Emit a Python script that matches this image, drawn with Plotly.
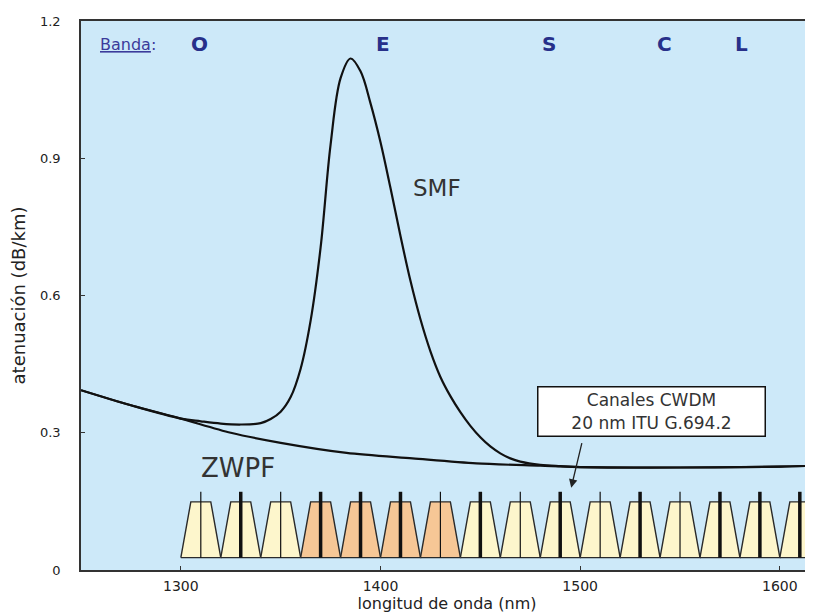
import plotly.graph_objects as go

# ---------------- data ----------------
smf_wavelength = [1250, 1275, 1300, 1310, 1320, 1330, 1340, 1345, 1350, 1355, 1360, 1365,
                  1370, 1375, 1380, 1385, 1390, 1395, 1400, 1405, 1410, 1415, 1420, 1425,
                  1430, 1435, 1440, 1445, 1450, 1455, 1460, 1465, 1470, 1480, 1490, 1500,
                  1550, 1600, 1618]
smf_attenuation = [0.393, 0.360, 0.331, 0.325, 0.320, 0.318, 0.321, 0.330, 0.346, 0.378, 0.440, 0.545,
                   0.705, 0.930, 1.075, 1.118, 1.090, 1.020, 0.935, 0.835, 0.730, 0.632, 0.548, 0.478,
                   0.422, 0.380, 0.345, 0.315, 0.290, 0.270, 0.255, 0.244, 0.237, 0.230, 0.227, 0.225,
                   0.224, 0.226, 0.228]

zwpf_wavelength = [1250, 1275, 1300, 1325, 1350, 1383, 1416, 1448, 1480, 1500, 1550, 1600, 1618]
zwpf_attenuation = [0.393, 0.360, 0.331, 0.300, 0.278, 0.256, 0.244, 0.233, 0.228, 0.225, 0.224, 0.226, 0.228]

channel_centers = [1310, 1330, 1350, 1370, 1390, 1410, 1430, 1450,
                   1470, 1490, 1510, 1530, 1550, 1570, 1590, 1610]
channel_highlight = [False, False, False, True, True, True, True, False,
                     False, False, False, False, False, False, False, False]
channel_thick = [False, True, False, True, True, True, False, True,
                 False, True, False, True, False, True, True, True]
channel_base = 0.027
channel_top = 0.149
channel_marker_top = 0.171
channel_half_top = 5
channel_half_base = 10

band_names = ["O", "E", "S", "C", "L"]
band_positions = [1309.5, 1401, 1484.5, 1542, 1581]

x_ticks = [1300, 1400, 1500, 1600]
x_tick_labels = ["1300", "1400", "1500", "1600"]
y_ticks = [0, 0.3, 0.6, 0.9, 1.2]
y_tick_labels = ["0", "0.3", "0.6", "0.9", "1.2"]

# ---------------- figure ----------------
fig = go.Figure()

cream = "#fdf6cc"
peach = "#f6c796"

for c, hl in zip(channel_centers, channel_highlight):
    xs = [c - channel_half_base, c - channel_half_top, c + channel_half_top,
          c + channel_half_base, c - channel_half_base]
    ys = [channel_base, channel_top, channel_top, channel_base, channel_base]
    fig.add_trace(go.Scatter(
        x=xs, y=ys, mode="lines", fill="toself",
        fillcolor=peach if hl else cream,
        line=dict(color="#2a2a2a", width=1.4),
        hoverinfo="skip", showlegend=False))

for c, thick in zip(channel_centers, channel_thick):
    fig.add_trace(go.Scatter(
        x=[c, c], y=[channel_base, channel_marker_top], mode="lines",
        line=dict(color="#111111", width=3.5 if thick else 1.2),
        hoverinfo="skip", showlegend=False))

fig.add_trace(go.Scatter(
    x=zwpf_wavelength, y=zwpf_attenuation, mode="lines", name="ZWPF",
    line=dict(color="#111111", width=2.2, shape="spline", smoothing=0.8),
    showlegend=False))
fig.add_trace(go.Scatter(
    x=smf_wavelength, y=smf_attenuation, mode="lines", name="SMF",
    line=dict(color="#111111", width=2.2, shape="spline", smoothing=1.0),
    showlegend=False))

text_font = "DejaVu Sans, Verdana, sans-serif"
blue = "#27308a"

# curve labels
fig.add_annotation(x=1428.2, y=0.834, text="SMF", showarrow=False,
                   font=dict(family=text_font, size=23, color="#333333"))
fig.add_annotation(x=1328.5, y=0.222, text="ZWPF", showarrow=False,
                   font=dict(family=text_font, size=26, color="#333333"))

# band labels
fig.add_annotation(x=1273.5, y=1.149, text="<u>Banda</u>:", showarrow=False,
                   font=dict(family=text_font, size=16, color="#3b3b9b"))
for name, pos in zip(band_names, band_positions):
    fig.add_annotation(x=pos, y=1.149, text="<b>" + name + "</b>", showarrow=False,
                       font=dict(family=text_font, size=20, color=blue))

# CWDM box + arrow
fig.add_annotation(x=1535.9, y=0.346, text="Canales CWDM<br>20 nm ITU G.694.2",
                   showarrow=False, bgcolor="white", bordercolor="#111111",
                   borderwidth=1.5, width=224, height=46, borderpad=1,
                   font=dict(family=text_font, size=17, color="#333333"))
fig.add_annotation(x=1495.5, y=0.180, text="", showarrow=True, ax=11, ay=-46,
                   arrowhead=2, arrowsize=1.3, arrowwidth=1.3, arrowcolor="#222222")

# the page body has an 8px margin, so the figure is sized to fill the window
fig.update_layout(
    width=805, height=608,
    margin=dict(l=73, r=0, t=13, b=46, pad=0),
    paper_bgcolor="white",
    plot_bgcolor="#cde9f9",
    font=dict(family=text_font, color="#222222"),
    xaxis=dict(
        range=[1250, 1616.6], tickvals=x_ticks, ticktext=x_tick_labels,
        ticks="inside", ticklen=4, tickcolor="#333333",
        showline=True, linecolor="#333333", linewidth=1.5, mirror=True,
        showgrid=False, zeroline=False,
        tickfont=dict(size=14, color="#222222"),
        ticklabelstandoff=2,
        title=dict(text="longitud de onda (nm)", standoff=2,
                   font=dict(size=16, color="#222222")),
    ),
    yaxis=dict(
        range=[0, 1.2], tickvals=y_ticks, ticktext=y_tick_labels,
        ticks="inside", ticklen=4, tickcolor="#333333",
        showline=True, linecolor="#333333", linewidth=1.5,
        showgrid=False, zeroline=False,
        tickfont=dict(size=13, color="#222222"),
        ticklabelstandoff=16,
        title=dict(text="atenuación (dB/km)", standoff=12,
                   font=dict(size=18, color="#222222")),
    ),
)

fig.write_html("out.html")
